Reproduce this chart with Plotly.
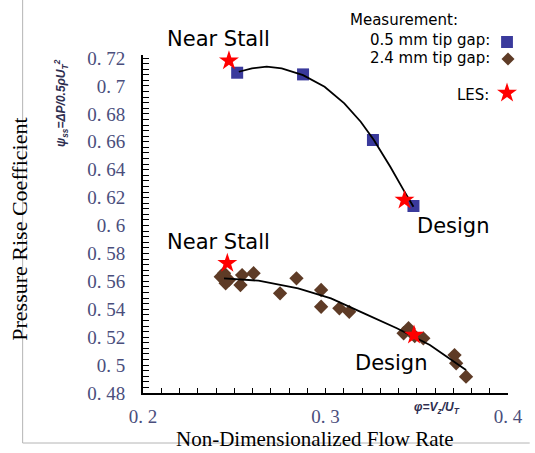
import plotly.graph_objects as go

# ---------------- data ----------------
# 0.5 mm tip gap measurements (blue squares)
gap05_phi = [0.2516, 0.2877, 0.3260, 0.3482]
gap05_psi = [0.7095, 0.7083, 0.6613, 0.6140]

# trend curve through the 0.5 mm data
curve05_phi = [0.2525, 0.2597, 0.2678, 0.2760, 0.2877, 0.2995, 0.3103,
               0.3193, 0.3265, 0.3355, 0.3428, 0.3482]
curve05_psi = [0.7102, 0.7126, 0.7138, 0.7126, 0.7078, 0.6994, 0.6876,
               0.6744, 0.6613, 0.6421, 0.6254, 0.6135]

# 2.4 mm tip gap measurements (brown diamonds)
gap24_phi = [0.2426, 0.2453, 0.2444, 0.2471, 0.2543, 0.2534, 0.2606,
             0.2751, 0.2841, 0.2976, 0.2976, 0.3076, 0.3130, 0.3428,
             0.3455, 0.3489, 0.3536, 0.3707, 0.3716, 0.3770]
gap24_psi = [0.5633, 0.5586, 0.5658, 0.5610, 0.5645, 0.5574, 0.5658,
             0.5514, 0.5622, 0.5538, 0.5418, 0.5407, 0.5382, 0.5228,
             0.5264, 0.5208, 0.5192, 0.5072, 0.5013, 0.4917]

# trend curve through the 2.4 mm data
curve24_phi = [0.2444, 0.2633, 0.2850, 0.3030, 0.3211, 0.3391, 0.3572,
               0.3680, 0.3770]
curve24_psi = [0.5622, 0.5605, 0.5550, 0.5478, 0.5371, 0.5264, 0.5144,
               0.5049, 0.4965]

# LES results (red stars)
les_phi = [0.2471, 0.3433, 0.2462, 0.3485]
les_psi = [0.7180, 0.6183, 0.5729, 0.5216]

# axis ticks
y_tickvals = [0.72, 0.70, 0.68, 0.66, 0.64, 0.62, 0.60, 0.58, 0.56,
              0.54, 0.52, 0.50, 0.48]
y_ticktext = ["0. 72", "0. 7", "0. 68", "0. 66", "0. 64", "0. 62", "0. 6",
              "0. 58", "0. 56", "0. 54", "0. 52", "0. 5", "0. 48"]
x_tickvals = [0.2, 0.3, 0.4]
x_ticktext = ["0. 2", "0. 3", "0. 4"]

# ---------------- layout geometry (pixels) ----------------
WIDTH, HEIGHT = 535, 453
L, R, T, B = 143, 22, 55, 60
PW = WIDTH - L - R
PH = HEIGHT - T - B


def px(xp):
    return (xp - L) / PW


def py(yp):
    return (HEIGHT - B - yp) / PH


BLUE = "#3a3a9c"
BROWN = "#5e3b26"
RED = "#ff0000"
TICKCOL = "#4a4e7c"
SERIF = "Liberation Serif"
SANS = "DejaVu Sans"

fig = go.Figure()

fig.add_trace(go.Scatter(x=gap05_phi, y=gap05_psi, mode="markers",
                         marker=dict(symbol="square", size=12, color=BLUE),
                         showlegend=False, cliponaxis=False))
fig.add_trace(go.Scatter(x=gap24_phi, y=gap24_psi, mode="markers",
                         marker=dict(symbol="diamond", size=11, color=BROWN),
                         showlegend=False, cliponaxis=False))
fig.add_trace(go.Scatter(x=curve05_phi, y=curve05_psi, mode="lines",
                         line=dict(color="black", width=1.8),
                         showlegend=False))
fig.add_trace(go.Scatter(x=curve24_phi, y=curve24_psi, mode="lines",
                         line=dict(color="black", width=1.8),
                         showlegend=False))
fig.add_trace(go.Scatter(x=les_phi, y=les_psi, mode="markers",
                         marker=dict(symbol="star", size=15, color=RED),
                         showlegend=False, cliponaxis=False))

# legend keys (drawn on an overlay axis that spans the plot area)
legend_keys = [("diamond", 10, BROWN, 513, 59),
               ("star", 15, RED, 512, 93)]
for sym, size, col, kx, ky in legend_keys:
    fig.add_trace(go.Scatter(x=[px(kx)], y=[py(ky)], mode="markers",
                             xaxis="x2", yaxis="y2",
                             marker=dict(symbol=sym, size=size, color=col),
                             showlegend=False, cliponaxis=False,
                             hoverinfo="skip"))

annotations = []


def note(text, xp, yp, size, font=SANS, color="black", xanchor="center",
         angle=0, yanchor="middle"):
    annotations.append(dict(text=text, x=px(xp), y=py(yp), xref="paper",
                            yref="paper", showarrow=False, xanchor=xanchor,
                            yanchor=yanchor, textangle=angle,
                            font=dict(family=font, size=size, color=color)))


note("Near Stall", 220, 39, 21)
note("Near Stall", 220, 242, 21)
note("Design", 458, 226, 21)
note("Design", 395, 363, 21)
note("Measurement:", 408, 20, 15)
note("0.5 mm tip gap:", 497, 40, 15, xanchor="right")
note("2.4 mm tip gap:", 497, 58, 15, xanchor="right")
note("LES:", 496, 95, 15, xanchor="right")
note("<b><i>ψ<sub>ss</sub>=ΔP/0.5ρU<sub>T</sub><sup>2</sup></i></b>", 60, 103, 12,
     font="Liberation Sans", color="#2e2e50", angle=-90)
note("<b><i>φ=V<sub>z</sub>/U<sub>T</sub></i></b>", 441, 408, 12,
     font="Liberation Sans", color="#2e2e50")
note("Pressure Rise Coefficient", 17, 229, 22, font=SERIF, angle=-90)
note("Non-Dimensionalized Flow Rate", 317, 453, 21, font=SERIF,
     yanchor="bottom")

shapes = [
    dict(type="line", xref="paper", yref="paper", x0=px(21), x1=px(21),
         y0=py(0), y1=py(443), line=dict(color="#b4b4b4", width=1)),
    dict(type="line", xref="paper", yref="paper", x0=px(21), x1=px(535),
         y0=py(443), y1=py(443), line=dict(color="#b4b4b4", width=1)),
    # legend key for the 0.5 mm tip gap (blue square)
    dict(type="rect", xref="paper", yref="paper", x0=px(506), x1=px(518),
         y0=py(48), y1=py(36), fillcolor=BLUE, line=dict(width=0)),
]

fig.update_layout(
    width=WIDTH, height=HEIGHT,
    margin=dict(l=L, r=R, t=T, b=B, pad=0),
    paper_bgcolor="white", plot_bgcolor="white",
    showlegend=False,
    annotations=annotations,
    shapes=shapes,
    xaxis=dict(range=[0.2, 0.4], tickmode="array", tickvals=x_tickvals,
               ticktext=x_ticktext, showgrid=False, zeroline=False,
               showline=True, linecolor="black", linewidth=2,
               ticks="inside", ticklen=5, tickwidth=1.2, tickcolor="black",
               minor=dict(dtick=0.01, tick0=0.2, ticks="inside", ticklen=5,
                          tickwidth=1.2, tickcolor="black", showgrid=False),
               tickfont=dict(family=SERIF, size=19, color=TICKCOL),
               ticklabelstandoff=5),
    yaxis=dict(range=[0.48, 0.7222], tickmode="array", tickvals=y_tickvals,
               ticktext=y_ticktext, showgrid=False, zeroline=False,
               showline=True, linecolor="black", linewidth=2,
               ticks="inside", ticklen=6, tickwidth=1.2, tickcolor="black",
               minor=dict(dtick=0.004, tick0=0.48, ticks="inside", ticklen=6,
                          tickwidth=1.2, tickcolor="black", showgrid=False),
               tickfont=dict(family=SERIF, size=19, color=TICKCOL),
               ticklabelstandoff=12),
    xaxis2=dict(range=[0, 1], overlaying="x", visible=False, fixedrange=True),
    yaxis2=dict(range=[0, 1], overlaying="y", visible=False, fixedrange=True),
)

fig.write_html("out.html")
